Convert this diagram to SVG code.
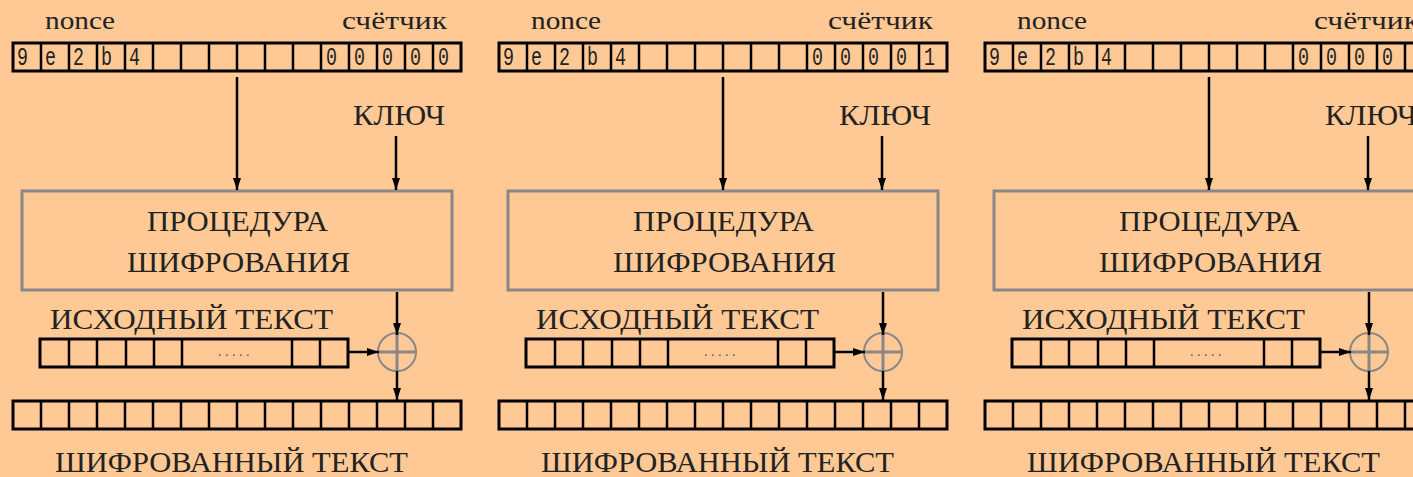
<svg xmlns="http://www.w3.org/2000/svg" width="1413" height="477" viewBox="0 0 1413 477">
  <style>
    .bg { fill: #ffc995; }
    .bar { fill: none; stroke: #000; stroke-width: 3; }
    .cell { fill: none; stroke: #000; stroke-width: 2.5; }
    .box { fill: none; stroke: #888; stroke-width: 3; }
    .xor { fill: none; stroke: #888; stroke-width: 2; }
    .xorx { stroke: #888; stroke-width: 3; }
    .lbl { font-family: "Liberation Serif", "DejaVu Serif", serif; fill: #222; }
    .big { font-size: 30px; }
    .small { font-size: 26px; }
    .dig { font-family: "Liberation Mono", "DejaVu Sans Mono", monospace; font-size: 25px; fill: #222; }
    .dots { font-family: "Liberation Serif", serif; font-size: 14px; fill: #555; letter-spacing: 3.5px; }
    .wire { fill: none; stroke: #000; stroke-width: 2.5; }
  </style>
  <defs>
    <marker id="arrow" markerUnits="userSpaceOnUse" markerWidth="14" markerHeight="10" refX="12" refY="5" orient="auto">
      <path d="M0,1 L12,5 L0,9 z" fill="#000"/>
    </marker>
    <!-- 16-cell register: outline and dividers -->
    <g id="reg16">
      <rect class="bar" x="13" y="0" width="448" height="28"/>
      <path class="cell" d="M41,0v28M69,0v28M97,0v28M125,0v28M153,0v28M181,0v28M209,0v28M237,0v28M265,0v28M293,0v28M321,0v28M349,0v28M377,0v28M405,0v28M433,0v28"/>
    </g>
    <!-- plaintext register with elided middle -->
    <g id="regplain">
      <rect class="bar" x="40" y="0" width="308" height="28"/>
      <path class="cell" d="M69,0v28M97,0v28M126,0v28M154,0v28M182,0v28M292,0v28M320,0v28"/>
      <text class="dots" x="218" y="17">.....</text>
    </g>
  </defs>

  <rect class="bg" x="0" y="0" width="1413" height="477"/>

  <!-- ===== Block 0 ===== -->
  <g id="block0">
    <g id="b0-input">
      <text class="lbl small" x="45" y="29" textLength="70" lengthAdjust="spacingAndGlyphs">nonce</text>
      <text class="lbl small" x="342" y="29" textLength="105" lengthAdjust="spacingAndGlyphs">счётчик</text>
      <use href="#reg16" y="43"/>
      <text class="dig" x="17" y="65" textLength="11" lengthAdjust="spacingAndGlyphs">9</text>
      <text class="dig" x="45" y="65" textLength="11" lengthAdjust="spacingAndGlyphs">e</text>
      <text class="dig" x="73" y="65" textLength="11" lengthAdjust="spacingAndGlyphs">2</text>
      <text class="dig" x="101" y="65" textLength="11" lengthAdjust="spacingAndGlyphs">b</text>
      <text class="dig" x="129" y="65" textLength="11" lengthAdjust="spacingAndGlyphs">4</text>
      <text class="dig" x="326" y="65" textLength="11" lengthAdjust="spacingAndGlyphs">0</text>
      <text class="dig" x="354" y="65" textLength="11" lengthAdjust="spacingAndGlyphs">0</text>
      <text class="dig" x="382" y="65" textLength="11" lengthAdjust="spacingAndGlyphs">0</text>
      <text class="dig" x="410" y="65" textLength="11" lengthAdjust="spacingAndGlyphs">0</text>
      <text class="dig" x="438" y="65" textLength="11" lengthAdjust="spacingAndGlyphs">0</text>
    </g>
    <g id="b0-key">
      <text class="lbl big" x="353" y="125" textLength="92" lengthAdjust="spacingAndGlyphs">КЛЮЧ</text>
    </g>
    <g id="b0-cipher">
      <rect class="box" x="22" y="191" width="430" height="99"/>
      <text class="lbl big" x="147" y="231" textLength="181" lengthAdjust="spacingAndGlyphs">ПРОЦЕДУРА</text>
      <text class="lbl big" x="127" y="272" textLength="223" lengthAdjust="spacingAndGlyphs">ШИФРОВАНИЯ</text>
    </g>
    <g id="b0-plain">
      <text class="lbl big" x="50" y="329" textLength="283" lengthAdjust="spacingAndGlyphs">ИСХОДНЫЙ ТЕКСТ</text>
      <use href="#regplain" y="339"/>
    </g>
    <g id="b0-xor">
      <circle class="xor" cx="397" cy="352" r="19"/>
      <path class="xorx" d="M378,352h38M397,333v38"/>
    </g>
    <g id="b0-output">
      <use href="#reg16" y="401"/>
      <text class="lbl big" x="55" y="472" textLength="353" lengthAdjust="spacingAndGlyphs">ШИФРОВАННЫЙ ТЕКСТ</text>
    </g>
    <g id="b0-connectors">
      <line class="wire" x1="237" y1="77" x2="237" y2="190" marker-end="url(#arrow)"/>
      <line class="wire" x1="396" y1="136" x2="396" y2="190" marker-end="url(#arrow)"/>
      <line class="wire" x1="397" y1="292" x2="397" y2="335" marker-end="url(#arrow)"/>
      <line class="wire" x1="349" y1="352" x2="379" y2="352" marker-end="url(#arrow)"/>
      <line class="wire" x1="397" y1="371" x2="397" y2="400" marker-end="url(#arrow)"/>
    </g>
  </g>

  <!-- ===== Block 1 ===== -->
  <g id="block1" transform="translate(486,0)">
    <g id="b1-input">
      <text class="lbl small" x="45" y="29" textLength="70" lengthAdjust="spacingAndGlyphs">nonce</text>
      <text class="lbl small" x="342" y="29" textLength="105" lengthAdjust="spacingAndGlyphs">счётчик</text>
      <use href="#reg16" y="43"/>
      <text class="dig" x="17" y="65" textLength="11" lengthAdjust="spacingAndGlyphs">9</text>
      <text class="dig" x="45" y="65" textLength="11" lengthAdjust="spacingAndGlyphs">e</text>
      <text class="dig" x="73" y="65" textLength="11" lengthAdjust="spacingAndGlyphs">2</text>
      <text class="dig" x="101" y="65" textLength="11" lengthAdjust="spacingAndGlyphs">b</text>
      <text class="dig" x="129" y="65" textLength="11" lengthAdjust="spacingAndGlyphs">4</text>
      <text class="dig" x="326" y="65" textLength="11" lengthAdjust="spacingAndGlyphs">0</text>
      <text class="dig" x="354" y="65" textLength="11" lengthAdjust="spacingAndGlyphs">0</text>
      <text class="dig" x="382" y="65" textLength="11" lengthAdjust="spacingAndGlyphs">0</text>
      <text class="dig" x="410" y="65" textLength="11" lengthAdjust="spacingAndGlyphs">0</text>
      <text class="dig" x="438" y="65" textLength="11" lengthAdjust="spacingAndGlyphs">1</text>
    </g>
    <g id="b1-key">
      <text class="lbl big" x="353" y="125" textLength="92" lengthAdjust="spacingAndGlyphs">КЛЮЧ</text>
    </g>
    <g id="b1-cipher">
      <rect class="box" x="22" y="191" width="430" height="99"/>
      <text class="lbl big" x="147" y="231" textLength="181" lengthAdjust="spacingAndGlyphs">ПРОЦЕДУРА</text>
      <text class="lbl big" x="127" y="272" textLength="223" lengthAdjust="spacingAndGlyphs">ШИФРОВАНИЯ</text>
    </g>
    <g id="b1-plain">
      <text class="lbl big" x="50" y="329" textLength="283" lengthAdjust="spacingAndGlyphs">ИСХОДНЫЙ ТЕКСТ</text>
      <use href="#regplain" y="339"/>
    </g>
    <g id="b1-xor">
      <circle class="xor" cx="397" cy="352" r="19"/>
      <path class="xorx" d="M378,352h38M397,333v38"/>
    </g>
    <g id="b1-output">
      <use href="#reg16" y="401"/>
      <text class="lbl big" x="55" y="472" textLength="353" lengthAdjust="spacingAndGlyphs">ШИФРОВАННЫЙ ТЕКСТ</text>
    </g>
    <g id="b1-connectors">
      <line class="wire" x1="237" y1="77" x2="237" y2="190" marker-end="url(#arrow)"/>
      <line class="wire" x1="396" y1="136" x2="396" y2="190" marker-end="url(#arrow)"/>
      <line class="wire" x1="397" y1="292" x2="397" y2="335" marker-end="url(#arrow)"/>
      <line class="wire" x1="349" y1="352" x2="379" y2="352" marker-end="url(#arrow)"/>
      <line class="wire" x1="397" y1="371" x2="397" y2="400" marker-end="url(#arrow)"/>
    </g>
  </g>

  <!-- ===== Block 2 (runs past the right edge) ===== -->
  <g id="block2" transform="translate(972,0)">
    <g id="b2-input">
      <text class="lbl small" x="45" y="29" textLength="70" lengthAdjust="spacingAndGlyphs">nonce</text>
      <text class="lbl small" x="342" y="29" textLength="105" lengthAdjust="spacingAndGlyphs">счётчик</text>
      <use href="#reg16" y="43"/>
      <text class="dig" x="17" y="65" textLength="11" lengthAdjust="spacingAndGlyphs">9</text>
      <text class="dig" x="45" y="65" textLength="11" lengthAdjust="spacingAndGlyphs">e</text>
      <text class="dig" x="73" y="65" textLength="11" lengthAdjust="spacingAndGlyphs">2</text>
      <text class="dig" x="101" y="65" textLength="11" lengthAdjust="spacingAndGlyphs">b</text>
      <text class="dig" x="129" y="65" textLength="11" lengthAdjust="spacingAndGlyphs">4</text>
      <text class="dig" x="326" y="65" textLength="11" lengthAdjust="spacingAndGlyphs">0</text>
      <text class="dig" x="354" y="65" textLength="11" lengthAdjust="spacingAndGlyphs">0</text>
      <text class="dig" x="382" y="65" textLength="11" lengthAdjust="spacingAndGlyphs">0</text>
      <text class="dig" x="410" y="65" textLength="11" lengthAdjust="spacingAndGlyphs">0</text>
    </g>
    <g id="b2-key">
      <text class="lbl big" x="353" y="125" textLength="92" lengthAdjust="spacingAndGlyphs">КЛЮЧ</text>
    </g>
    <g id="b2-cipher">
      <rect class="box" x="22" y="191" width="430" height="99"/>
      <text class="lbl big" x="147" y="231" textLength="181" lengthAdjust="spacingAndGlyphs">ПРОЦЕДУРА</text>
      <text class="lbl big" x="127" y="272" textLength="223" lengthAdjust="spacingAndGlyphs">ШИФРОВАНИЯ</text>
    </g>
    <g id="b2-plain">
      <text class="lbl big" x="50" y="329" textLength="283" lengthAdjust="spacingAndGlyphs">ИСХОДНЫЙ ТЕКСТ</text>
      <use href="#regplain" y="339"/>
    </g>
    <g id="b2-xor">
      <circle class="xor" cx="397" cy="352" r="19"/>
      <path class="xorx" d="M378,352h38M397,333v38"/>
    </g>
    <g id="b2-output">
      <use href="#reg16" y="401"/>
      <text class="lbl big" x="55" y="472" textLength="353" lengthAdjust="spacingAndGlyphs">ШИФРОВАННЫЙ ТЕКСТ</text>
    </g>
    <g id="b2-connectors">
      <line class="wire" x1="237" y1="77" x2="237" y2="190" marker-end="url(#arrow)"/>
      <line class="wire" x1="396" y1="136" x2="396" y2="190" marker-end="url(#arrow)"/>
      <line class="wire" x1="397" y1="292" x2="397" y2="335" marker-end="url(#arrow)"/>
      <line class="wire" x1="349" y1="352" x2="379" y2="352" marker-end="url(#arrow)"/>
      <line class="wire" x1="397" y1="371" x2="397" y2="400" marker-end="url(#arrow)"/>
    </g>
  </g>
</svg>
